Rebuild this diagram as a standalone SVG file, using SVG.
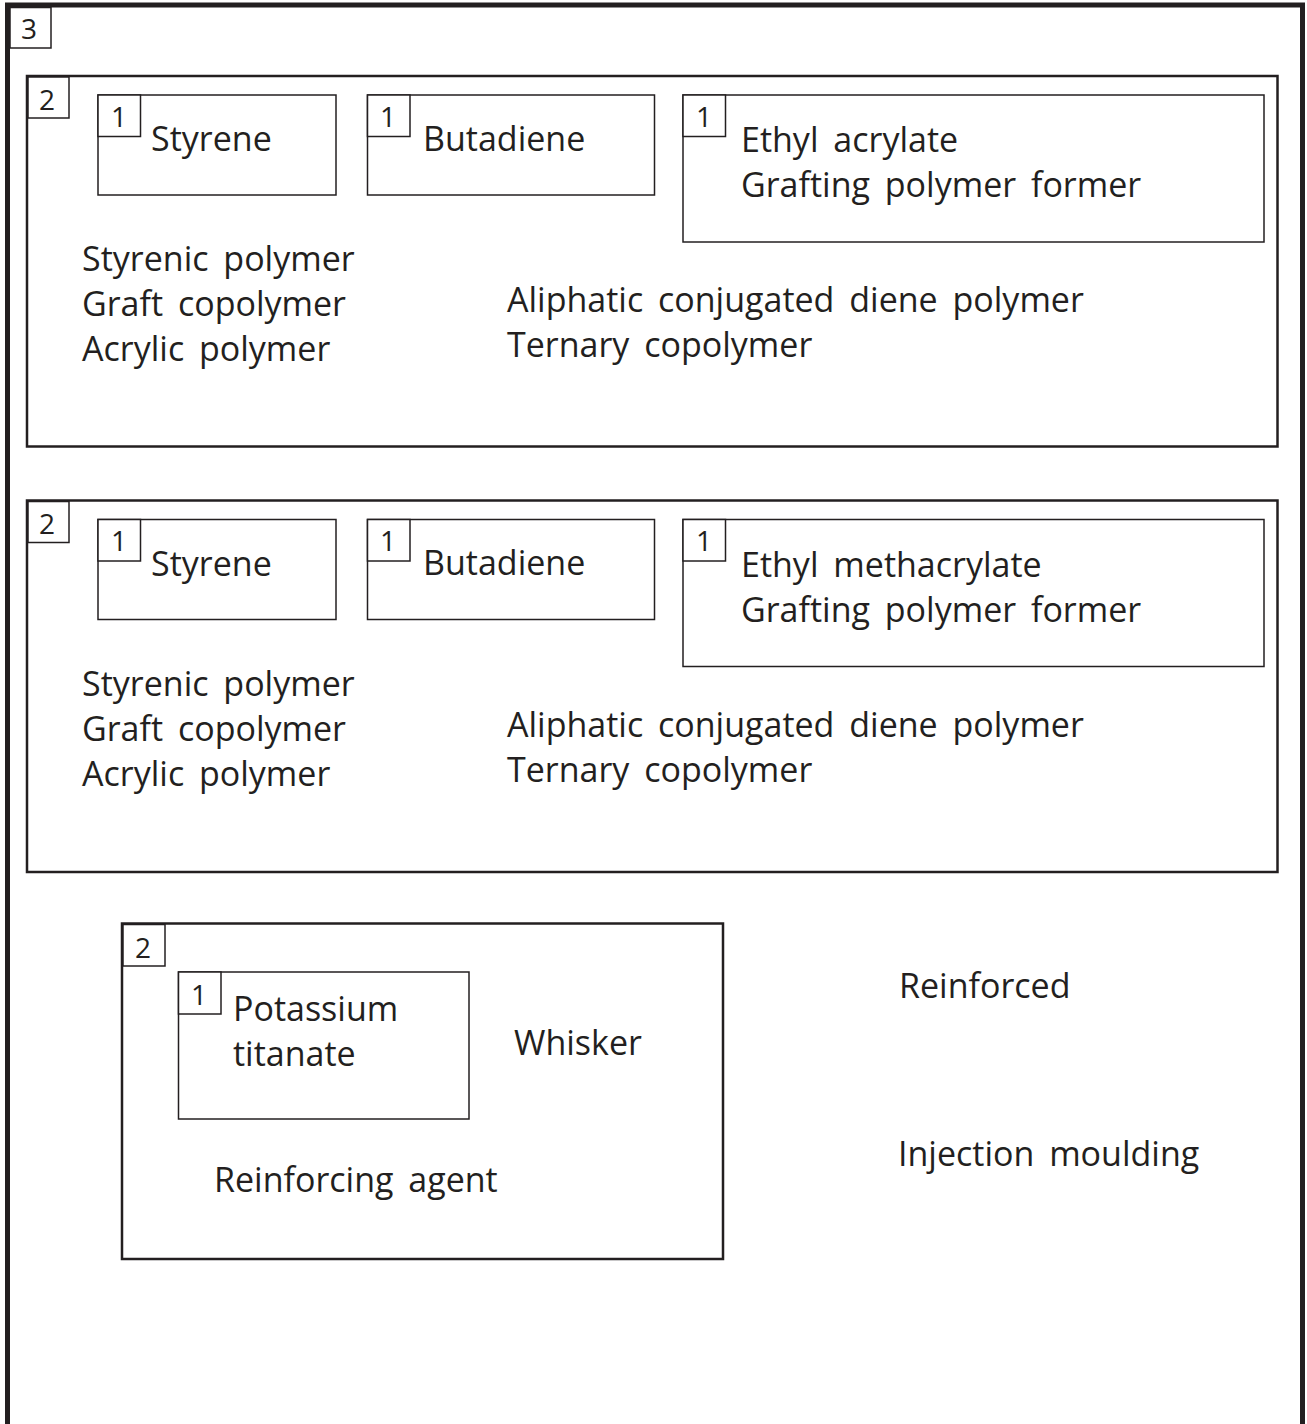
<svg xmlns="http://www.w3.org/2000/svg" width="1307" height="1424" viewBox="0 0 1307 1424">
<style>
.t{font-family:"Open Sans","Liberation Sans",sans-serif;font-size:34px;fill:#231f20;word-spacing:6px}
.n{font-family:"Open Sans","Liberation Sans",sans-serif;font-size:28px;fill:#231f20;text-anchor:middle}
.b3{fill:none;stroke:#231f20;stroke-width:5}
.b2{fill:none;stroke:#231f20;stroke-width:2.5}
.b1{fill:none;stroke:#231f20;stroke-width:1.5}
.lb{fill:#fff;stroke:#231f20;stroke-width:1.5}
</style>
<rect width="1307" height="1424" fill="#fff"/>
<g id="box3">
<rect class="b3" x="7.5" y="5" width="1295" height="1440"/>
<rect class="lb" x="10" y="7.5" width="41" height="40.5"/>
<text class="n" x="29" y="39">3</text>
</g>
<g id="grp-a">
<rect class="b2" x="27" y="76" width="1250.5" height="370.5"/>
<rect class="lb" x="28" y="77" width="41" height="41"/>
<text class="n" x="47" y="110">2</text>
<g id="a-styrene">
<rect class="b1" x="98" y="95" width="238" height="100"/>
<rect class="lb" x="98" y="95" width="42.5" height="41.5"/>
<text class="n" x="119" y="127">1</text>
<text class="t" x="151" y="151">Styrene</text>
</g>
<g id="a-butadiene">
<rect class="b1" x="367.5" y="95" width="287" height="100"/>
<rect class="lb" x="367.5" y="95" width="42.5" height="41.5"/>
<text class="n" x="388" y="127">1</text>
<text class="t" x="423" y="151">Butadiene</text>
</g>
<g id="a-ethyl">
<rect class="b1" x="683" y="95" width="581" height="147"/>
<rect class="lb" x="683" y="95" width="42.5" height="41.5"/>
<text class="n" x="704" y="127">1</text>
<text class="t" x="741" y="152">Ethyl acrylate</text>
<text class="t" x="741" y="197">Grafting polymer former</text>
</g>
<text class="t" x="82" y="271">Styrenic polymer</text>
<text class="t" x="82" y="316">Graft copolymer</text>
<text class="t" x="82" y="361">Acrylic polymer</text>
<text class="t" x="507" y="312">Aliphatic conjugated diene polymer</text>
<text class="t" x="507" y="357">Ternary copolymer</text>
</g>
<g id="grp-b">
<rect class="b2" x="27" y="500.5" width="1250.5" height="371.5"/>
<rect class="lb" x="28" y="501.5" width="41" height="41"/>
<text class="n" x="47" y="534">2</text>
<g id="b-styrene">
<rect class="b1" x="98" y="519.5" width="238" height="100"/>
<rect class="lb" x="98" y="519.5" width="42.5" height="41.5"/>
<text class="n" x="119" y="551">1</text>
<text class="t" x="151" y="576">Styrene</text>
</g>
<g id="b-butadiene">
<rect class="b1" x="367.5" y="519.5" width="287" height="100"/>
<rect class="lb" x="367.5" y="519.5" width="42.5" height="41.5"/>
<text class="n" x="388" y="551">1</text>
<text class="t" x="423" y="575">Butadiene</text>
</g>
<g id="b-ethyl">
<rect class="b1" x="683" y="519.5" width="581" height="147"/>
<rect class="lb" x="683" y="519.5" width="42.5" height="41.5"/>
<text class="n" x="704" y="551">1</text>
<text class="t" x="741" y="577">Ethyl methacrylate</text>
<text class="t" x="741" y="622">Grafting polymer former</text>
</g>
<text class="t" x="82" y="696">Styrenic polymer</text>
<text class="t" x="82" y="741">Graft copolymer</text>
<text class="t" x="82" y="786">Acrylic polymer</text>
<text class="t" x="507" y="737">Aliphatic conjugated diene polymer</text>
<text class="t" x="507" y="782">Ternary copolymer</text>
</g>
<g id="grp-c">
<rect class="b2" x="122" y="923.5" width="601" height="335.5"/>
<rect class="lb" x="123" y="924.5" width="42" height="41.5"/>
<text class="n" x="143" y="958">2</text>
<g id="c-potassium">
<rect class="b1" x="178.5" y="972" width="290.5" height="147"/>
<rect class="lb" x="178.5" y="972" width="42.5" height="42"/>
<text class="n" x="199" y="1005">1</text>
<text class="t" x="233" y="1021">Potassium</text>
<text class="t" x="233" y="1066">titanate</text>
</g>
<text class="t" x="514" y="1055">Whisker</text>
<text class="t" x="214" y="1192">Reinforcing agent</text>
</g>
<text class="t" x="899" y="998">Reinforced</text>
<text class="t" x="898" y="1166">Injection moulding</text>
</svg>
